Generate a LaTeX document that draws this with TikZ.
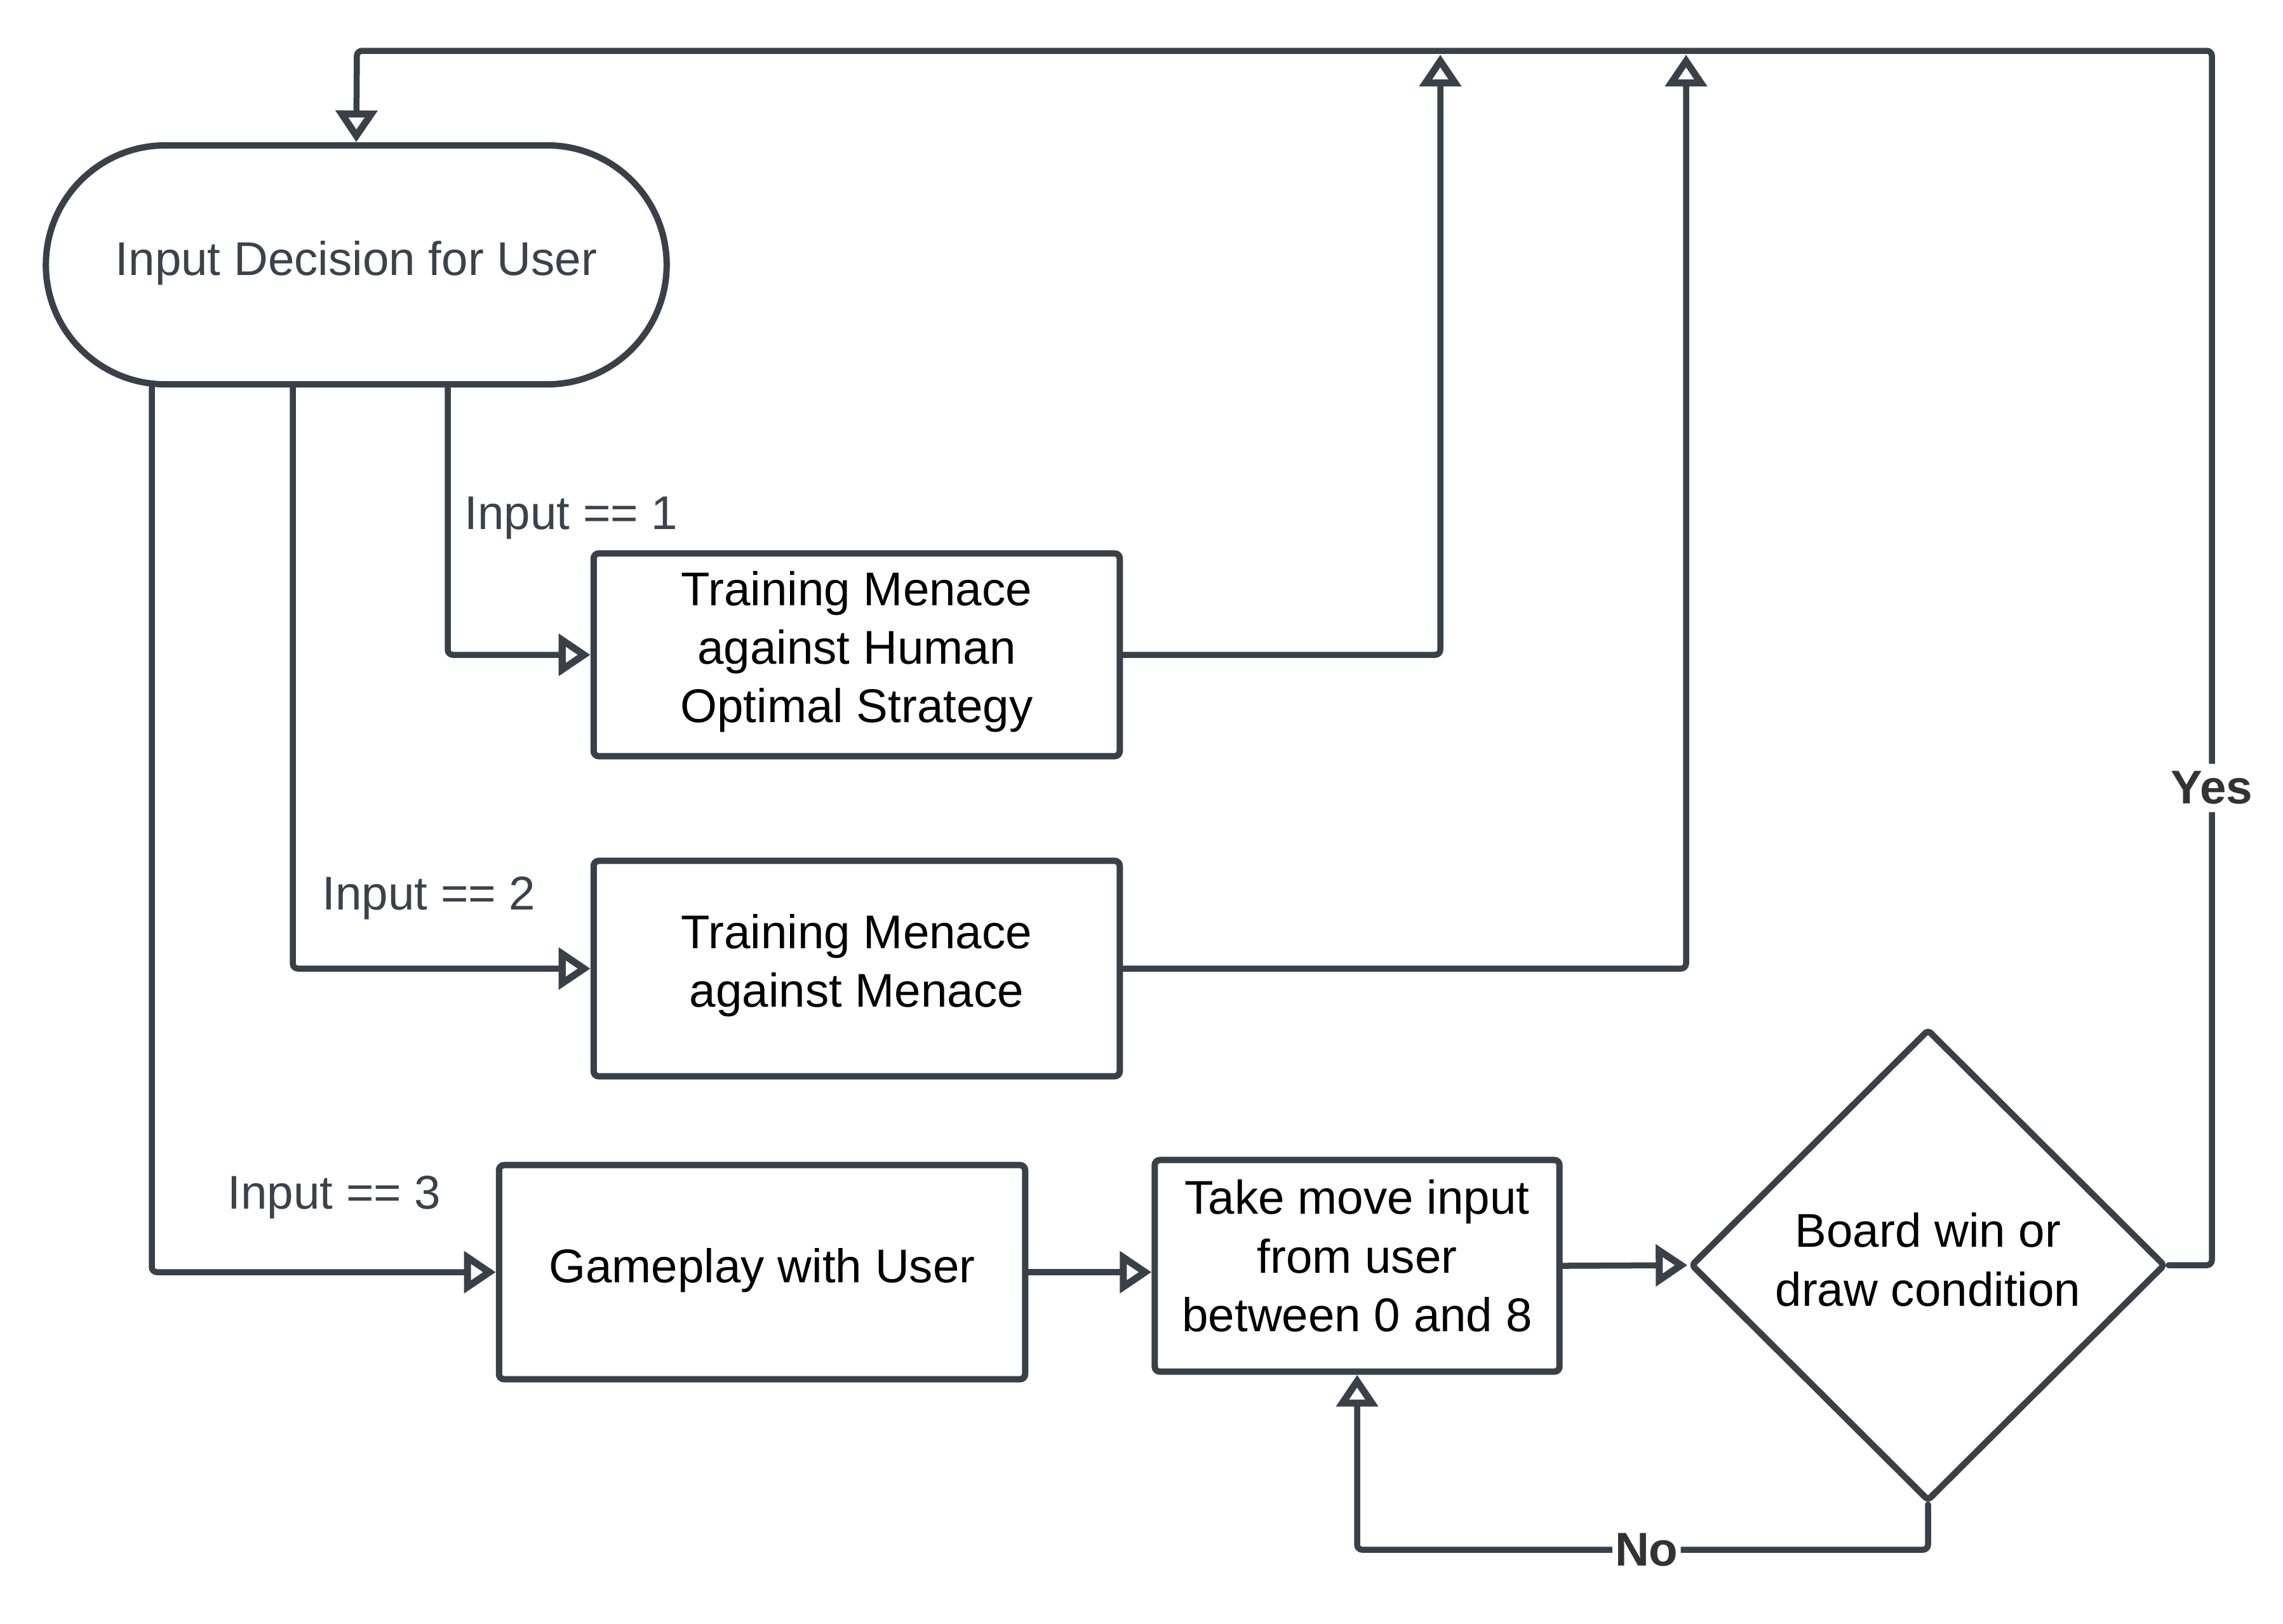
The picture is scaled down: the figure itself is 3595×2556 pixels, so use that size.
\documentclass[tikz,border=0pt]{standalone}
\usepackage{fontspec}
\setmainfont{Liberation Sans}
\usetikzlibrary{arrows.meta,shapes.geometric}
\definecolor{lc}{HTML}{3A4048}
\definecolor{tg}{HTML}{3B424A}
\definecolor{lb}{HTML}{333333}
\begin{document}
\begin{tikzpicture}[x=0.01cm,y=-0.01cm,
  every node/.style={font=\fontsize{21.2pt}{26.2pt}\selectfont},
  boxnode/.style={draw=lc,line width=0.1cm,rounded corners=0.08cm,align=center,inner sep=0pt,fill=white},
  conn/.style={draw=lc,line width=0.095cm,rounded corners=0.08cm,line cap=round},
  arr/.style={conn,-{Triangle[length=0.5cm,width=0.64cm,fill=white,line width=0.11cm]}},
  lbl/.style={text=tg,anchor=west,inner sep=0pt},
  yn/.style={text=lb,font=\fontsize{21.2pt}{26.2pt}\selectfont\bfseries,fill=white,inner sep=0.12cm}]
\useasboundingbox (0,0) rectangle (3595,2556);
% nodes
\node[boxnode,rounded corners=1.88cm,minimum width=9.77cm,minimum height=3.76cm,text=tg,text depth=0.21cm] (term) at (561,417) {Input Decision for User};
\node[boxnode,minimum width=8.28cm,minimum height=3.19cm,text depth=0.25cm] (box1) at (1349,1031) {Training Menace\\against Human\\Optimal Strategy};
\node[boxnode,minimum width=8.28cm,minimum height=3.39cm,text depth=0.25cm] (box2) at (1349,1525) {Training Menace\\against Menace};
\node[boxnode,minimum width=8.28cm,minimum height=3.37cm,text depth=0.21cm] (box3) at (1200,2003) {Gameplay with User};
\node[boxnode,minimum width=6.37cm,minimum height=3.33cm,text depth=0.32cm] (box4) at (2137,1993) {Take move input\\from user\\between 0 and 8};
\node[boxnode,diamond,rounded corners=0.06cm,minimum width=7.47cm,minimum height=7.43cm,text depth=0.18cm] (diam) at (3036,1992) {Board win or\\draw condition};
% labels
\node[lbl] (l1) at (731,816) {Input == 1};
\node[lbl] (l2) at (507,1414) {Input == 2};
\node[lbl] (l3) at (358,1885) {Input == 3};
% coordinates
\coordinate (c1) at (705,0);
\coordinate (c2) at (461,0);
\coordinate (c3) at (239,0);
\coordinate (u1) at (2268,86);
\coordinate (u2) at (2655,86);
\coordinate (tr) at (3483,80);
\coordinate (tl) at (562,80);
\coordinate (nb) at (3036,2440);
% connectors
\draw[arr] (term.south -| c1) |- (box1.west);
\draw[arr] (term.south -| c2) |- (box2.west);
\draw[arr] (term.south -| c3) |- (box3.west);
\draw[arr] (box1.east) -| (u1);
\draw[arr] (box2.east) -| (u2);
\draw[arr] (box3.east) -- (box3.east -| box4.west);
\draw[arr] (box4.east) -- (diam.west);
\draw[arr] (diam.east) -- (diam.east -| tr) -- node[yn,pos=0.393] (yes) {Yes} (tr) -- (tl) -- (term.north);
\draw[arr] (diam.south) -- (nb) -- node[yn,pos=0.493,inner sep=0.04cm] (no) {No} (nb -| box4.south) -- (box4.south);
\end{tikzpicture}
\end{document}
